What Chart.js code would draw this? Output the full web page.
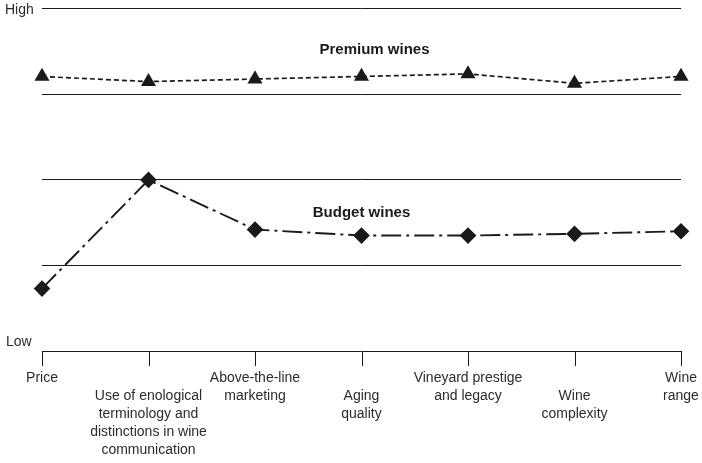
<!DOCTYPE html>
<html>
<head>
<meta charset="utf-8">
<script src="https://cdn.jsdelivr.net/npm/chart.js@4/dist/chart.umd.min.js"></script>
<style>
  html, body { margin: 0; padding: 0; background: #fff; }
  #wrap { width: 702px; height: 463px; }
</style>
</head>
<body>
<div id="wrap"><canvas id="chart" width="702" height="463"></canvas></div>
<script>
// data (0 = Low, 4 = High)
var categories = ['Price', 'Use of enological', 'Above-the-line', 'Aging', 'Vineyard prestige', 'Wine complexity', 'Wine range'];
var tickLabels = [
  ['Price'],
  ['Use of enological', 'terminology and', 'distinctions in wine', 'communication'],
  ['Above-the-line', 'marketing'],
  ['Aging', 'quality'],
  ['Vineyard prestige', 'and legacy'],
  ['Wine', 'complexity'],
  ['Wine', 'range']
];
var premium = [3.21, 3.15, 3.18, 3.21, 3.24, 3.13, 3.21];
var budget = [0.73, 2.0, 1.42, 1.35, 1.35, 1.37, 1.40];
var gridValues = [0, 1, 2, 3, 4];

var font = '"Liberation Sans", Arial, sans-serif';

var extras = {
  id: 'extras',
  afterDraw: function(chart) {
    var ctx = chart.ctx;
    var x = chart.scales.x;
    var y = chart.scales.y;
    var bottom = y.getPixelForValue(0);
    ctx.save();
    // tick marks
    ctx.strokeStyle = '#1a1a1a';
    ctx.lineWidth = 1;
    for (let i = 0; i < categories.length; i++) {
      var px = Math.round(x.getPixelForValue(i)) + 0.5;
      ctx.beginPath();
      ctx.moveTo(px, bottom);
      ctx.lineTo(px, bottom + 15);
      ctx.stroke();
    }
    // staggered category labels
    ctx.fillStyle = '#2b2b2b';
    ctx.font = '14px ' + font;
    ctx.textAlign = 'center';
    ctx.textBaseline = 'middle';
    for (let i = 0; i < tickLabels.length; i++) {
      var px = x.getPixelForValue(i);
      var start = (i % 2 == 0) ? 27 : 45;
      tickLabels[i].forEach(function(line, k){
        ctx.fillText(line, px, bottom + start + k * 18);
      });
    }
    // High / Low
    ctx.textAlign = 'left';
    ctx.fillText('High', 5, y.getPixelForValue(4) + 1);
    ctx.fillText('Low', 6, y.getPixelForValue(0) - 9);
    // series names
    ctx.font = 'bold 15px ' + font;
    ctx.fillStyle = '#1a1a1a';
    ctx.textAlign = 'center';
    ctx.fillText('Premium wines', x.getPixelForValue(3) + 13, y.getPixelForValue(3.52));
    ctx.fillText('Budget wines', x.getPixelForValue(3), y.getPixelForValue(1.62));
    ctx.restore();
  }
};

var ctx = document.getElementById('chart').getContext('2d');
var chart = new Chart(ctx, {
  type: 'line',
  data: {
    labels: categories,
    datasets: [{
      label: 'Premium wines',
      data: premium,
      borderColor: '#1a1a1a',
      backgroundColor: '#1a1a1a',
      borderWidth: 1.7,
      borderDash: [5, 3],
      pointStyle: 'triangle',
      pointRadius: 7,
      fill: false
    }, {
      label: 'Budget wines',
      data: budget,
      borderColor: '#1a1a1a',
      backgroundColor: '#1a1a1a',
      borderWidth: 1.9,
      borderDash: [20, 5, 3, 5],
      pointStyle: 'rectRot',
      pointRadius: 7,
      fill: false
    }]
  },
  options: {
    responsive: false,
    animation: false,
    layout: { padding: { left: 42, right: 21, top: 7, bottom: 112 } },
    plugins: { legend: { display: false }, tooltip: { enabled: false } },
    scales: {
      x: { display: false, offset: false },
      y: {
        display: true,
        min: 0, max: 4,
        afterBuildTicks: function(axis){ axis.ticks = gridValues.map(function(v){ return {value: v}; }); },
        ticks: { display: false },
        border: { display: false },
        grid: { color: '#1a1a1a', lineWidth: 1, drawTicks: false }
      }
    }
  },
  plugins: [extras]
});
</script>
</body>
</html>
